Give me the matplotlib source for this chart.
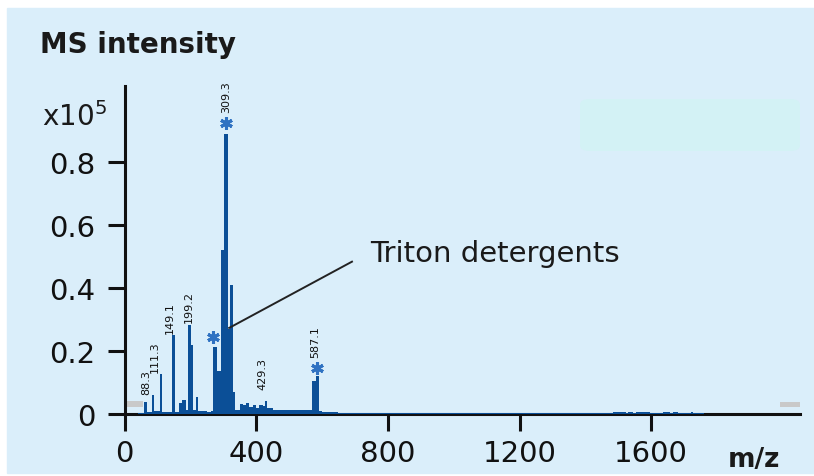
import matplotlib
matplotlib.use('Agg')
import matplotlib.pyplot as plt
from matplotlib.patches import Rectangle, FancyBboxPatch
import numpy as np

# spectrum as steps: bin edges (m/z) and intensity (x1e5) of each bin
edges = [40, 60, 67, 85, 91, 107, 114, 145, 152, 166, 176, 187, 194, 201, 208,
         216, 224, 250, 262, 270, 281, 293, 303, 313, 321, 329, 336, 350, 360,
         368, 378, 390, 400, 410, 420, 427, 433, 450, 470, 520, 571, 581, 591,
         600, 650, 1483, 1522, 1530, 1545, 1555, 1595, 1637, 1658, 1667, 1680,
         1720, 1728, 1760]
heights = [0.004, 0.038, 0.006, 0.06, 0.008, 0.127, 0.006, 0.252, 0.005, 0.035,
           0.045, 0.012, 0.283, 0.22, 0.012, 0.055, 0.01, 0.006, 0.01, 0.214,
           0.137, 0.52, 0.889, 0.27, 0.41, 0.07, 0.012, 0.032, 0.028, 0.034,
           0.022, 0.03, 0.02, 0.03, 0.025, 0.042, 0.018, 0.012, 0.014, 0.012,
           0.105, 0.12, 0.01, 0.007, 0.003, 0.006, 0.003, 0.006, 0.003, 0.006,
           0.003, 0.006, 0.003, 0.006, 0.003, 0.006, 0.003]

# labelled peaks
peak_labels = ['88.3', '111.3', '149.1', '199.2', '309.3', '429.3', '587.1']
peak_mz = [88.3, 111.3, 149.1, 199.2, 309.3, 429.3, 587.1]
peak_top = [0.06, 0.127, 0.252, 0.283, 0.889, 0.042, 0.12]

# Triton detergent peaks (asterisks)
star_mz = [308, 270, 584]
star_y = [0.924, 0.245, 0.146]

xticks = [0, 400, 800, 1200, 1600]
yticks = [0, 0.2, 0.4, 0.6, 0.8]
ytick_labels = ['0', '0.2', '0.4', '0.6', '0.8']

bg = '#daeefa'
bar_col = '#0b4f97'
star_col = '#2f72c2'

fig = plt.figure(figsize=(8.14, 4.77), dpi=100)
fig.patch.set_facecolor('white')
fig.patches.append(Rectangle((7/814, 1-474/477), 1-7/814, (474-9)/477,
                             transform=fig.transFigure, color=bg, zorder=-10))
fig.patches.append(FancyBboxPatch((580/814, 1-152/477), 220/814, 52/477,
                                  boxstyle='round,pad=0,rounding_size=0.012',
                                  transform=fig.transFigure, color='#d3f2f5',
                                  ec='none', zorder=-9))

ax = fig.add_axes([124.5/814, 1-415/477, (800-124.5)/814, (415-87)/477])
ax.set_facecolor('none')

ax.stairs(heights, edges, fill=True, color=bar_col, lw=0, zorder=3)
ax.plot(star_mz, star_y, ls='none', marker=(6, 2, 0), ms=9, mew=2.2,
        color=star_col, mec=star_col, zorder=4)

# label offsets (pixels) relative to peak top
offs = [(-7, 1), (-6, 2), (-4, 2), (-1, 3), (0, 22), (-3, 12), (-3, 19)]
for lab, x, y, (dx, dy) in zip(peak_labels, peak_mz, peak_top, offs):
    ax.annotate(lab, (x, y), xytext=(dx, dy), textcoords='offset pixels',
                rotation=90, ha='center', va='bottom', fontsize=8,
                color='#111111', zorder=5)

ax.plot([318, 691], [0.273, 0.483], color='#222222', lw=1.4, zorder=5)
ax.text(746, 0.486, 'Triton detergents', fontsize=21, color='#1a1a1a',
        va='baseline', ha='left')

ax.set_xlim(0, 2052)
ax.set_ylim(0, 1.04)
ax.set_xticks(xticks)
ax.set_yticks(yticks)
ax.set_yticklabels(ytick_labels)
for s in ['top', 'right']:
    ax.spines[s].set_visible(False)
for s in ['left', 'bottom']:
    ax.spines[s].set_linewidth(2.2)
    ax.spines[s].set_color('#111111')
ax.tick_params(axis='both', direction='out', length=12, width=2.2,
               labelsize=21, colors='#111111')
ax.tick_params(axis='y', pad=9)
ax.tick_params(axis='x', pad=6)

# small grey marks at the axis ends
ax.add_patch(Rectangle((0.001, 0.022), 0.026, 0.018, transform=ax.transAxes,
                       color='#c9c9c9', ec='none', zorder=2, clip_on=False))
ax.add_patch(Rectangle((0.97, 0.022), 0.03, 0.015, transform=ax.transAxes,
                       color='#c9c9c9', ec='none', zorder=2, clip_on=False))

fig.text(40/814, 1-53/477, 'MS intensity', fontsize=20, fontweight='bold',
         color='#1a1a1a', va='baseline')
fig.text(42/814, 1-126/477, r'x10$^{5}$', fontsize=20, color='#1a1a1a',
         va='baseline')
fig.text(728/814, 1-467/477, 'm/z', fontsize=19, fontweight='bold',
         color='#1a1a1a', va='baseline')

fig.savefig('out.png', dpi=100, facecolor=fig.get_facecolor())
